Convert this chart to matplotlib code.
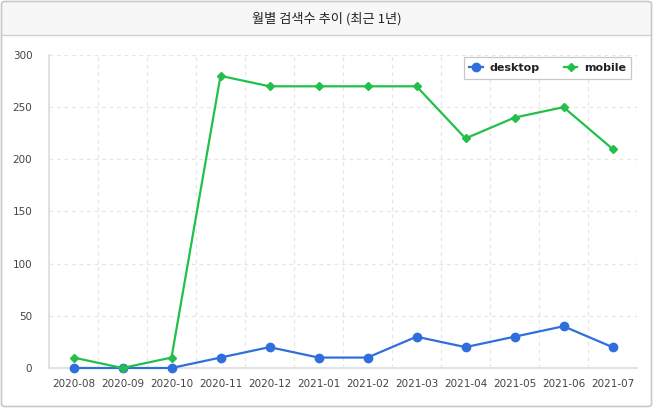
import matplotlib
matplotlib.use("Agg")
import matplotlib.pyplot as plt
from matplotlib.patches import FancyBboxPatch, Rectangle
from matplotlib.lines import Line2D

plt.rcParams['font.family'] = ['Noto Sans CJK KR', 'DejaVu Sans']

months = ['2020-08', '2020-09', '2020-10', '2020-11', '2020-12', '2021-01',
          '2021-02', '2021-03', '2021-04', '2021-05', '2021-06', '2021-07']
desktop = [0, 0, 0, 10, 20, 10, 10, 30, 20, 30, 40, 20]
mobile = [10, 0, 10, 280, 270, 270, 270, 270, 220, 240, 250, 210]
yticks = [0, 50, 100, 150, 200, 250, 300]
title = '월별 검색수 추이 (최근 1년)'

blue = '#2f6fdc'
green = '#22c04a'

fig = plt.figure(figsize=(6.53, 4.08), dpi=100)
W, H = 653, 408

# outer frame
frame = FancyBboxPatch((1.5 / W, 1.5 / H), (W - 3) / W, (H - 3) / H,
                       boxstyle="round,pad=0,rounding_size=0.006",
                       transform=fig.transFigure, facecolor='none',
                       edgecolor='#c8c8c8', linewidth=1.2, zorder=5)
fig.patches.append(frame)
# header
header = Rectangle((2 / W, (H - 35) / H), (W - 4) / W, 33 / H,
                   transform=fig.transFigure, facecolor='#f7f7f7',
                   edgecolor='none', zorder=1)
fig.patches.append(header)
fig.lines.append(Line2D([2 / W, (W - 2) / W], [(H - 35) / H, (H - 35) / H],
                        transform=fig.transFigure, color='#d0d0d0', lw=1, zorder=2))
fig.text(0.5, (H - 19) / H, title, ha='center', va='center', fontsize=9.5,
         fontweight='medium', color='#222222', zorder=3)

ax = fig.add_axes([49 / W, 40 / H, (637 - 49) / W, (368 - 55) / H])
ax.set_facecolor('none')
x = list(range(len(months)))

ax.plot(x, desktop, color=blue, lw=1.6, marker='o', ms=6, label='desktop', zorder=3, clip_on=False)
ax.plot(x, mobile, color=green, lw=1.6, marker='D', ms=4.5, label='mobile', zorder=4, clip_on=False)

ax.set_xlim(-0.5, len(months) - 0.5)
ax.set_ylim(0, 300)
ax.set_xticks(x)
ax.set_xticklabels(months, fontsize=7.5, color='#444444', family='DejaVu Sans')
ax.set_yticks(yticks)
ax.set_yticklabels([str(v) for v in yticks], fontsize=7.5, color='#444444', family='DejaVu Sans')
ax.set_xticks([i - 0.5 for i in range(len(months) + 1)], minor=True)
ax.tick_params(axis='both', which='both', length=0)
ax.tick_params(axis='x', pad=8)
ax.tick_params(axis='y', pad=12)
ax.grid(True, which='minor', axis='x', color='#e6e6e6', ls=(0, (3, 3)), lw=0.9)
ax.grid(True, which='major', axis='y', color='#e6e6e6', ls=(0, (3, 3)), lw=0.9)
ax.grid(False, which='major', axis='x')
for s in ['top', 'right']:
    ax.spines[s].set_visible(False)
for s in ['left', 'bottom']:
    ax.spines[s].set_color('#dddddd')
    ax.spines[s].set_linewidth(1.2)

leg = ax.legend(loc='upper right', ncol=2, frameon=True, fancybox=False,
                edgecolor='#bbbbbb', prop={'family': 'DejaVu Sans', 'weight': 'bold', 'size': 8},
                handlelength=1.2, columnspacing=2.2, handletextpad=0.6,
                borderpad=0.5, bbox_to_anchor=(1.0, 1.01))
leg.get_frame().set_linewidth(0.9)
for t in leg.get_texts():
    t.set_color('#222222')

fig.savefig('out.png', dpi=100)
